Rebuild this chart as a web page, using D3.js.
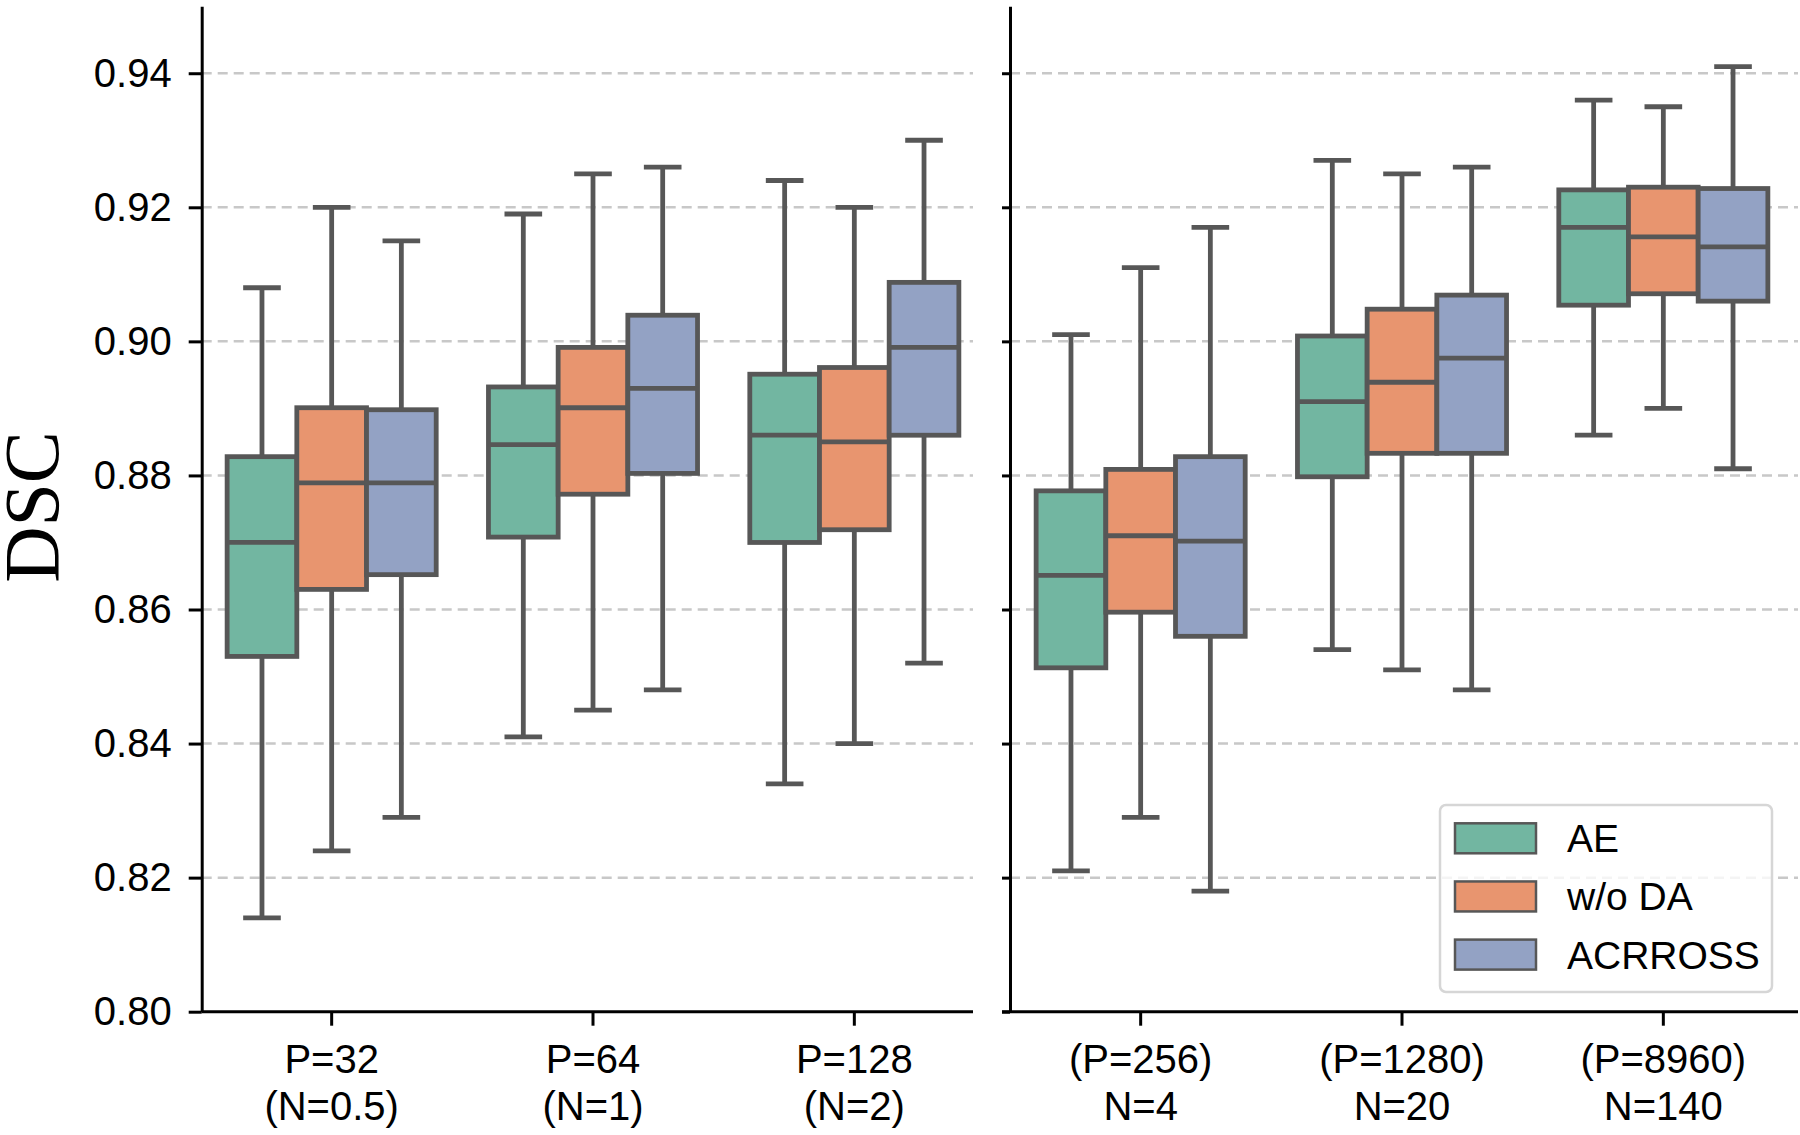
<!DOCTYPE html>
<html>
<head>
<meta charset="utf-8">
<script src="https://cdn.jsdelivr.net/npm/d3@7"></script>
<style>
  html, body { margin: 0; padding: 0; background: #fff; }
  svg { display: block; }
  text { font-family: "Liberation Sans", Arial, sans-serif; fill: #000; }
</style>
</head>
<body>
<svg id="chart" width="1800" height="1135"></svg>
<script>
// ---------------- DATA ----------------
const groupsLeft  = ["P=32|(N=0.5)", "P=64|(N=1)", "P=128|(N=2)"];
const groupsRight = ["(P=256)|N=4", "(P=1280)|N=20", "(P=8960)|N=140"];
const seriesNames = ["AE", "w/o DA", "ACRROSS"];
const seriesColors = ["#72b6a1", "#e8956f", "#93a2c4"];
const yTicks = [0.80, 0.82, 0.84, 0.86, 0.88, 0.90, 0.92, 0.94];

// each entry: [lower whisker, Q1, median, Q3, upper whisker], one per group (6 groups)
const statsAE = [
  [0.814, 0.853, 0.870, 0.8828, 0.908],
  [0.841, 0.8708, 0.8846, 0.8932, 0.919],
  [0.834, 0.870, 0.886, 0.8951, 0.924],
  [0.821, 0.8513, 0.8651, 0.8777, 0.901],
  [0.854, 0.8798, 0.891, 0.9008, 0.927],
  [0.886, 0.9054, 0.917, 0.9226, 0.936]
];
const statsWoDA = [
  [0.824, 0.8630, 0.8789, 0.8901, 0.920],
  [0.845, 0.8772, 0.8901, 0.8991, 0.925],
  [0.840, 0.8719, 0.885, 0.8961, 0.920],
  [0.829, 0.8596, 0.871, 0.8809, 0.911],
  [0.851, 0.8833, 0.8939, 0.9048, 0.925],
  [0.890, 0.9071, 0.9156, 0.923, 0.935]
];
const statsACRROSS = [
  [0.829, 0.8652, 0.8789, 0.8898, 0.915],
  [0.848, 0.8803, 0.893, 0.9039, 0.926],
  [0.852, 0.886, 0.8991, 0.9088, 0.930],
  [0.818, 0.856, 0.8702, 0.8828, 0.917],
  [0.848, 0.8833, 0.8975, 0.9069, 0.926],
  [0.881, 0.906, 0.9141, 0.9228, 0.941]
];
const allStats = [statsAE, statsWoDA, statsACRROSS];

// ---------------- LAYOUT ----------------
const svg = d3.select("#chart");
const yBottom = 1011.7, yTop = 6.2;
const y = d3.scaleLinear().domain([0.80, 0.95]).range([yBottom, yTop]);

const panels = [
  { groups: groupsLeft,  offset: 0, range: [201, 985],  spineX: 201.7, xEnd: 973,  tickLen: 13, labels: true },
  { groups: groupsRight, offset: 3, range: [1010, 1794], spineX: 1010, xEnd: 1798, tickLen: 8,  labels: false }
];

const lineColor = "#575757";
const boxStroke = 4.8;

panels.forEach(p => {
  const x = d3.scaleBand().domain(p.groups).range(p.range).paddingInner(0).paddingOuter(0);
  const bw = x.bandwidth();
  const hue = d3.scaleBand().domain(seriesNames).range([bw * 0.1, bw * 0.9]);
  const g = svg.append("g");

  // gridlines
  g.append("g").selectAll("line")
    .data(yTicks.filter(v => v > 0.8))
    .join("line")
    .attr("x1", p.spineX).attr("x2", p.xEnd)
    .attr("y1", d => y(d)).attr("y2", d => y(d))
    .attr("stroke", "#c8c8c8").attr("stroke-width", 2.5)
    .attr("stroke-dasharray", "10,6");

  // boxes
  p.groups.forEach((grp, gi) => {
    seriesNames.forEach((s, si) => {
      const st = allStats[si][gi + p.offset];
      const x0 = x(grp) + hue(s);
      const w = hue.bandwidth();
      const cx = x0 + w / 2;
      const capW = w * 0.54;
      const bg = g.append("g");
      bg.append("line").attr("x1", cx).attr("x2", cx)
        .attr("y1", y(st[3])).attr("y2", y(st[4]))
        .attr("stroke", lineColor).attr("stroke-width", boxStroke);
      bg.append("line").attr("x1", cx).attr("x2", cx)
        .attr("y1", y(st[1])).attr("y2", y(st[0]))
        .attr("stroke", lineColor).attr("stroke-width", boxStroke);
      [st[0], st[4]].forEach(v => {
        bg.append("line").attr("x1", cx - capW / 2).attr("x2", cx + capW / 2)
          .attr("y1", y(v)).attr("y2", y(v))
          .attr("stroke", lineColor).attr("stroke-width", boxStroke);
      });
      bg.append("rect")
        .attr("x", x0).attr("width", w)
        .attr("y", y(st[3])).attr("height", y(st[1]) - y(st[3]))
        .attr("fill", seriesColors[si])
        .attr("stroke", lineColor).attr("stroke-width", boxStroke);
      bg.append("line").attr("x1", x0).attr("x2", x0 + w)
        .attr("y1", y(st[2])).attr("y2", y(st[2]))
        .attr("stroke", lineColor).attr("stroke-width", boxStroke);
    });
  });

  // y axis
  const yAxis = d3.axisLeft(y).tickValues(yTicks).tickSize(p.tickLen).tickSizeOuter(0)
    .tickPadding(17)
    .tickFormat(p.labels ? d3.format(".2f") : () => "");
  const ya = g.append("g").attr("transform", `translate(${p.spineX},0)`).call(yAxis);
  ya.select(".domain").attr("stroke", "#000").attr("stroke-width", 3);
  ya.selectAll(".tick line").attr("stroke", "#000").attr("stroke-width", 3);
  ya.selectAll(".tick text").attr("font-size", 40)
    .attr("font-family", "'Liberation Sans', Arial, sans-serif").attr("fill", "#000");

  // x axis
  const xAxis = d3.axisBottom(x).tickSize(14).tickSizeOuter(0).tickFormat(() => "");
  const xa = g.append("g").attr("transform", `translate(0,${yBottom})`).call(xAxis);
  xa.select(".domain").remove();
  xa.selectAll(".tick line").attr("stroke", "#000").attr("stroke-width", 3);
  g.append("line")
    .attr("x1", p.spineX - (p.labels ? 0 : p.tickLen)).attr("x2", p.xEnd)
    .attr("y1", yBottom).attr("y2", yBottom)
    .attr("stroke", "#000").attr("stroke-width", 3);
  p.groups.forEach(grp => {
    const parts = grp.split("|");
    const t = g.append("text")
      .attr("text-anchor", "middle")
      .attr("font-size", 40)
      .attr("x", x(grp) + bw / 2)
      .attr("y", 1073);
    t.append("tspan").attr("x", x(grp) + bw / 2).attr("y", 1073).text(parts[0]);
    t.append("tspan").attr("x", x(grp) + bw / 2).attr("y", 1120).text(parts[1]);
  });
});

// y label
svg.append("text")
  .attr("transform", "translate(58,507) rotate(-90)")
  .attr("text-anchor", "middle")
  .style("font-family", "'Liberation Serif', 'Times New Roman', serif")
  .attr("font-size", 78)
  .text("DSC");

// legend
const leg = svg.append("g");
leg.append("rect")
  .attr("x", 1440).attr("y", 805).attr("width", 332).attr("height", 187)
  .attr("rx", 6).attr("ry", 6)
  .attr("fill", "#fff").attr("fill-opacity", 0.8)
  .attr("stroke", "#d6d6d6").attr("stroke-width", 2.5);
const legY = d3.scalePoint().domain(seriesNames).range([838.3, 954.6]);
seriesNames.forEach((s, i) => {
  leg.append("rect")
    .attr("x", 1455).attr("y", legY(s) - 15).attr("width", 81).attr("height", 30)
    .attr("fill", seriesColors[i]).attr("stroke", lineColor).attr("stroke-width", 2.5);
  leg.append("text")
    .attr("x", 1567).attr("y", legY(s) + 14)
    .attr("font-size", 39)
    .text(s);
});
</script>
</body>
</html>
